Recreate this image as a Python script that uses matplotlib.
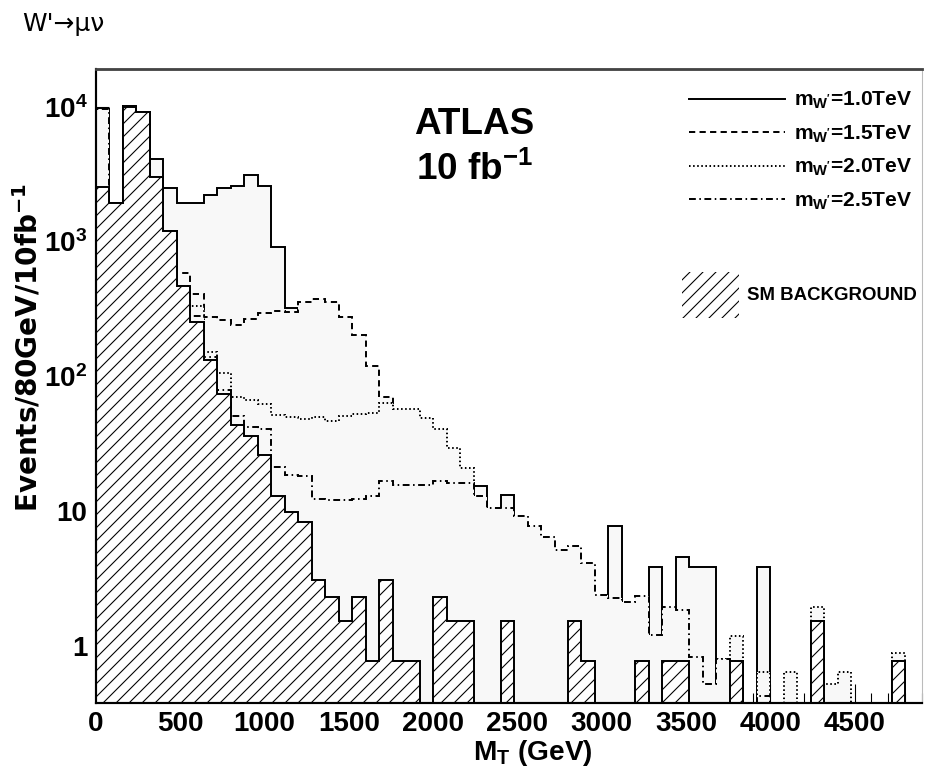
import numpy as np
import matplotlib
matplotlib.use("Agg")
import matplotlib.pyplot as plt
from matplotlib.lines import Line2D
from matplotlib.patches import Patch
from matplotlib.ticker import FixedLocator, MultipleLocator, NullFormatter, LogLocator

# ---------------- data (events / 80 GeV / 10 fb^-1) ----------------
BIN_WIDTH = 80  # GeV

# SM background (hatched)
bkg = [2550, 1925, 10000, 9180, 3030, 1190, 465, 255, 133, 74,
       44, 36, 26, 12.9, 9.9, 8.4, 3.1, 2.3, 1.55, 2.3,
       0.775, 3.1, 0.775, 0.775, 0, 2.3, 1.55, 1.55, 0, 0,
       1.55, 0, 0, 0, 0, 1.55, 0.775, 0, 0, 0,
       0.775, 0, 0.775, 0.775, 0, 0, 0, 0.775, 0, 0,
       0, 0, 0, 1.55, 0, 0, 0, 0, 0, 0.775,
       0, 0]

# W' (1.0 TeV) + background, solid
w10 = [9570, 1925, 10170, 9180, 4075, 2512, 1925, 1925, 2218, 2487,
       2586, 3120, 2586, 915, 324, 8.4, 3.1, 2.3, 1.55, 2.3,
       0.775, 3.1, 0.775, 0.775, 0, 2.3, 1.55, 1.55, 15.3, 0,
       13.3, 0, 0, 0, 0, 1.55, 0.775, 0, 7.74, 0,
       0.775, 3.87, 0.775, 4.6, 3.87, 3.87, 0, 0.775, 0, 3.87,
       0, 0, 0, 1.55, 0, 0, 0, 0, 0, 0.775,
       0, 0]

# W' (1.5 TeV) + background, dashed
w15 = [9570, 1925, 10170, 9180, 3030, 1206, 583, 410, 278, 260,
       241, 266, 295, 305, 298, 359, 374, 359, 278, 203,
       119, 71, 0.775, 0.775, 0, 2.3, 1.55, 1.55, 0, 0,
       1.55, 0, 0, 0, 0, 1.55, 0.775, 0, 0, 0,
       0.775, 0, 0.775, 0.775, 0, 0, 0, 0.775, 0, 0,
       0, 0, 0, 1.55, 0, 0, 0, 0, 0, 0.775,
       0, 0]

# W' (2.0 TeV) + background, dotted
w20 = [9570, 1925, 10170, 9180, 3030, 1190, 465, 330, 153, 106,
       71, 67, 62, 52, 50, 48, 50, 47, 51, 53,
       54, 64, 57, 57, 49, 41, 29.5, 21, 0, 0,
       1.55, 0, 0, 0, 0, 1.55, 0.775, 0, 0, 0,
       0.775, 0, 0.775, 0.775, 0, 0, 0.8, 1.19, 0, 0.65,
       0, 0.65, 0, 1.96, 0.53, 0.65, 0, 0, 0, 0.89,
       0, 0]

# W' (2.5 TeV) + background, dash-dotted
w25 = [9570, 1925, 10170, 9180, 3030, 1190, 465, 280, 140, 80,
       50.6, 42.5, 41, 21.3, 18.7, 18.2, 12.4, 12.2, 12.2, 12.4,
       12.9, 16.7, 15.8, 15.8, 15.8, 16.7, 16.2, 16.2, 12.9, 10.6,
       10.6, 9.2, 7.74, 6.5, 5.2, 5.5, 4.15, 2.41, 2.29, 2.12,
       2.35, 1.22, 1.95, 1.87, 0.84, 0.53, 0.8, 0.775, 0, 0.43,
       0, 0, 0, 1.55, 0, 0, 0, 0, 0, 0.775,
       0, 0]

signal_labels = [r"m$_{\rm W'}$=1.0TeV", r"m$_{\rm W'}$=1.5TeV",
                 r"m$_{\rm W'}$=2.0TeV", r"m$_{\rm W'}$=2.5TeV"]
bkg_label = "SM BACKGROUND"

x_ticks = [0, 500, 1000, 1500, 2000, 2500, 3000, 3500, 4000, 4500]
y_ticks = [1, 10, 100, 1000, 10000]
y_tick_labels = ["1", "10", r"$10^{2}$", r"$10^{3}$", r"$10^{4}$"]

# ---------------- style ----------------
DPI = 156

plt.rcParams["font.family"] = ["Liberation Sans", "DejaVu Sans"]
plt.rcParams["font.weight"] = "bold"
plt.rcParams["mathtext.fontset"] = "custom"
plt.rcParams["mathtext.rm"] = "Liberation Sans:bold"
plt.rcParams["mathtext.it"] = "Liberation Sans:bold"
plt.rcParams["mathtext.bf"] = "Liberation Sans:bold"
plt.rcParams["mathtext.sf"] = "Liberation Sans:bold"
plt.rcParams["hatch.linewidth"] = 0.5
plt.rcParams["hatch.color"] = "black"

LW = 0.9
FILL = "#f8f8f8"
styles = ["-", (0, (3.2, 2.2)), (0, (0.8, 1.3)), (0, (3.5, 1.8, 0.8, 1.8))]

fig = plt.figure(figsize=(926 / DPI, 771 / DPI), dpi=DPI)
ax = fig.add_axes([96 / 926, 1 - 703 / 771, (922 - 96) / 926, (703 - 69) / 771])

nb = len(bkg)
edges = np.arange(nb + 1) * BIN_WIDTH


def prep(v):
    v = np.asarray(v, dtype=float)
    return np.where(v > 0, v, np.nan)


for vals, ls in zip([w10, w15, w20, w25], styles):
    ax.stairs(prep(vals), edges, baseline=0.1, fill=True, facecolor=FILL,
              edgecolor="black", linewidth=LW, linestyle=ls)

ax.stairs(prep(bkg), edges, baseline=0.1, fill=True, facecolor="white",
          edgecolor="black", linewidth=LW, hatch="////")

ax.set_yscale("log")
ax.set_xlim(0, 4900)
ax.set_ylim(0.38, 1.9e4)
ax.set_axisbelow(True)

ax.xaxis.set_major_locator(FixedLocator(x_ticks))
ax.xaxis.set_minor_locator(MultipleLocator(100))
ax.yaxis.set_major_locator(FixedLocator(y_ticks))
ax.set_yticklabels(y_tick_labels)
ax.yaxis.set_minor_locator(LogLocator(base=10, subs=np.arange(2, 10)))
ax.yaxis.set_minor_formatter(NullFormatter())
ax.tick_params(axis="both", which="both", direction="in", top=False, right=False,
               labelsize=12.8, width=0.5)
ax.tick_params(axis="x", which="major", length=9, pad=3.5)
ax.tick_params(axis="x", which="minor", length=4.6)
ax.tick_params(axis="y", which="major", length=6, pad=4)
ax.tick_params(axis="y", which="minor", length=3.5)

for side in ["left", "bottom"]:
    ax.spines[side].set_linewidth(1.0)
    ax.spines[side].set_color("black")
ax.spines["top"].set_linewidth(1.3)
ax.spines["top"].set_color("#444444")
ax.spines["right"].set_linewidth(0.5)
ax.spines["right"].set_color("#bbbbbb")

ax.set_xlabel(r"M$_{\rm T}$ (GeV)", fontsize=13, fontweight="bold")
ax.xaxis.set_label_coords((533 - 96) / 826, (703 - 753) / 634)
ax.xaxis.label.set_va("center")
ax.set_ylabel(r"Events/80GeV/10fb$^{\mathbf{-1}}$", fontsize=12.9, fontweight="bold",
              family=["DejaVu Sans"], math_fontfamily="dejavusans")
ax.yaxis.set_label_coords((28 - 96) / 826, (703 - 347) / 634)
ax.yaxis.label.set_va("center")

# ATLAS label
ax.text((474 - 96) / 826, (703 - 134) / 634, "ATLAS", transform=ax.transAxes,
        ha="center", va="baseline", fontsize=17, fontweight="bold")
ax.text((475 - 96) / 826, (703 - 180) / 634, r"10 fb$^{-1}$", transform=ax.transAxes,
        ha="center", va="baseline", fontsize=17, fontweight="bold")

# title
fig.text(22 / 926, 1 - 31 / 771, "W'\u2192\u03bc\u03bd", ha="left", va="baseline",
         fontsize=11.5, fontweight="normal", family=["DejaVu Sans"])

# legends
line_handles = [Line2D([], [], color="black", linewidth=LW, linestyle=ls) for ls in styles]
leg1 = ax.legend(line_handles, signal_labels, loc="upper right",
                 bbox_to_anchor=((912 - 96) / 826, (703 - 90) / 634),
                 frameon=False, fontsize=9.7, handlelength=4.57, handletextpad=0.43,
                 labelspacing=0.58, borderpad=0, borderaxespad=0)
ax.add_artist(leg1)
bkg_handle = Patch(facecolor="white", edgecolor="black", hatch="////", linewidth=0)
leg2 = ax.legend([bkg_handle], [bkg_label], loc="upper right",
                 bbox_to_anchor=((917 - 96) / 826, (703 - 272) / 634),
                 frameon=False, fontsize=8.6, handlelength=3.06, handleheight=3.4,
                 handletextpad=0.43, borderpad=0, borderaxespad=0)

fig.savefig("out.png", dpi=DPI)
